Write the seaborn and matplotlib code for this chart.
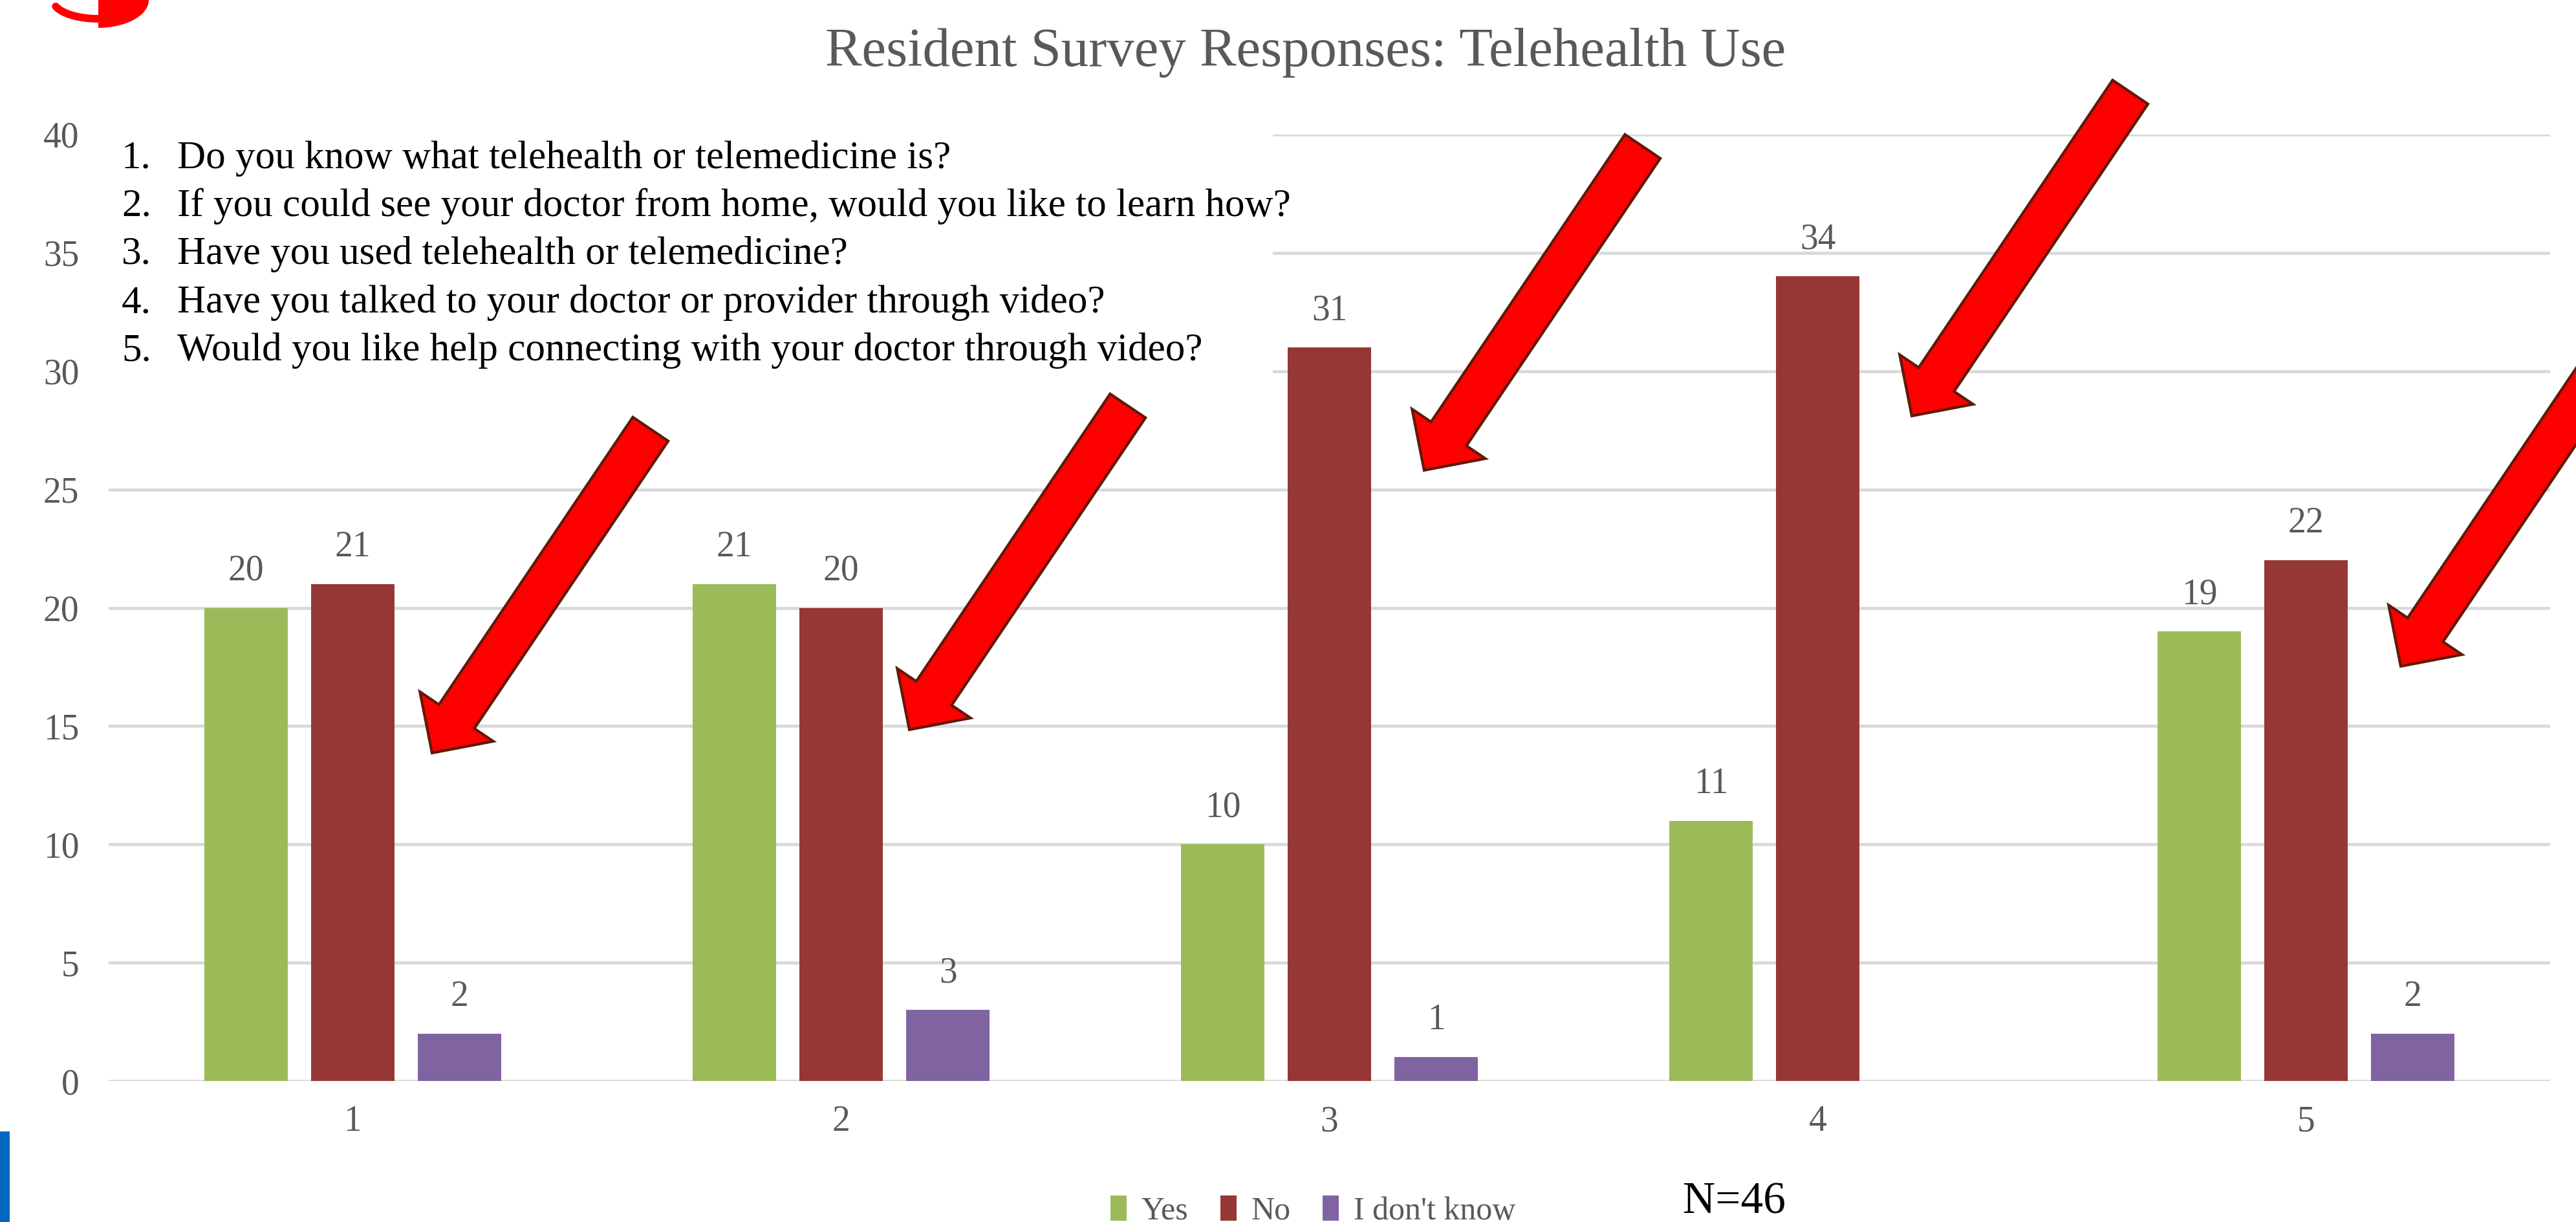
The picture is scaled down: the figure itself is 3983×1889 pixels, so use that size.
import numpy as np
import pandas as pd
import matplotlib
matplotlib.use("Agg")
import matplotlib.pyplot as plt
from matplotlib.patches import Polygon, Rectangle
from matplotlib.lines import Line2D
import seaborn as sns

# ---------------- data ----------------
questions = ["1", "2", "3", "4", "5"]
responses = ["Yes", "No", "I don't know"]
yes_counts = [20, 21, 10, 11, 19]
no_counts = [21, 20, 31, 34, 22]
dont_know_counts = [2, 3, 1, 0, 2]
y_ticks = [0, 5, 10, 15, 20, 25, 30, 35, 40]
question_texts = [
    "Do you know what telehealth or telemedicine is?",
    "If you could see your doctor from home, would you like to learn how?",
    "Have you used telehealth or telemedicine?",
    "Have you talked to your doctor or provider through video?",
    "Would you like help connecting with your doctor through video?",
]
title_text = "Resident Survey Responses: Telehealth Use"
n_text = "N=46"

# ---------------- style ----------------
colors = {"Yes": "#9BBB59", "No": "#953735", "I don't know": "#8064A2"}
GRAY = "#595959"
W, H, DPI = 3983, 1889, 100

sns.set_theme(style="white")
plt.rcParams["font.family"] = ["Liberation Serif", "DejaVu Serif"]

fig = plt.figure(figsize=(W / DPI, H / DPI), dpi=DPI)
fig.patch.set_facecolor("white")


def fx(px):
    return px / W


def fy(py):
    return 1 - py / H


ax = fig.add_axes([fx(168), fy(1671), (3943 - 168) / W, (1671 - 208) / H])

series = {"Yes": yes_counts, "No": no_counts, "I don't know": dont_know_counts}
rows = []
for r in responses:
    for q, v in zip(questions, series[r]):
        rows.append({"question": q, "response": r, "count": v})
df = pd.DataFrame(rows)

sns.barplot(data=df, x="question", y="count", hue="response", order=questions,
            hue_order=responses, palette=colors, width=0.656, gap=0.218,
            saturation=1, errorbar=None, linewidth=0, edgecolor="none", ax=ax)

for container, r in zip(ax.containers, responses):
    for bar, v in zip(container, series[r]):
        if v > 0:
            ax.annotate(str(v), (bar.get_x() + bar.get_width() / 2, bar.get_height()),
                        xytext=(0, 31), textcoords="offset points", ha="center",
                        va="baseline", fontsize=40, color=GRAY)

ax.set_ylim(0, 40)
ax.set_xlim(-0.5, 4.5)
ax.set_yticks(y_ticks)
ax.set_xlabel("")
ax.set_ylabel("")
for s in ax.spines.values():
    s.set_visible(False)
ax.grid(axis="y", color="#D9D9D9", linewidth=3.4)
ax.grid(axis="x", visible=False)
ax.set_axisbelow(True)
ax.tick_params(axis="y", length=0, labelsize=40, labelcolor=GRAY, pad=33)
ax.tick_params(axis="x", length=0, labelsize=40, labelcolor=GRAY, pad=27)

handles, labels = ax.get_legend_handles_labels()
if ax.get_legend() is not None:
    ax.get_legend().remove()
fig.legend(handles, labels, loc="center", bbox_to_anchor=(fx(2030), fy(1872)),
           ncol=3, frameon=False, fontsize=36, handlelength=0.5, handleheight=0.8,
           handletextpad=0.45, columnspacing=1.0, labelcolor=GRAY)

# white box behind question list (hides gridlines)
fig.add_artist(Rectangle((fx(168), fy(600)), fx(1968) - fx(168), (600 - 195) / H,
                         transform=fig.transFigure, facecolor="white",
                         edgecolor="none", zorder=1))

# title
fig.text(fx(2019), fy(102), title_text, ha="center", va="baseline",
         fontsize=61, color=GRAY, zorder=3)

# question list
q_baselines = [260, 334, 408, 483, 557]
for i, (txt, yb) in enumerate(zip(question_texts, q_baselines)):
    fig.text(fx(188), fy(yb), f"{i + 1}.", ha="left", va="baseline",
             fontsize=44, color="black", zorder=3)
    fig.text(fx(274), fy(yb), txt, ha="left", va="baseline",
             fontsize=44, color="black", zorder=3)

# N label
fig.text(fx(2681), fy(1875), n_text, ha="center", va="baseline",
         fontsize=50, color="black", zorder=3)

# red block arrows (decoration), pixel layout
arrow_tips_px = [(668, 1164), (1406, 1128), (2202, 727), (2956, 643), (3712, 1030)]
arrow_dir = np.array([-338.0, 501.0])
arrow_dir /= np.linalg.norm(arrow_dir)
perp = np.array([-arrow_dir[1], arrow_dir[0]])
A_LEN, SHAFT_W, HEAD_W, HEAD_L = 604, 66, 137, 68
for tx, ty in arrow_tips_px:
    T = np.array([tx, ty], dtype=float)
    B = T - HEAD_L * arrow_dir
    C = T - A_LEN * arrow_dir
    pts = [C + SHAFT_W / 2 * perp, B + SHAFT_W / 2 * perp, B + HEAD_W / 2 * perp, T,
           B - HEAD_W / 2 * perp, B - SHAFT_W / 2 * perp, C - SHAFT_W / 2 * perp]
    verts = [(fx(p[0]), fy(p[1])) for p in pts]
    fig.add_artist(Polygon(verts, closed=True, facecolor="#FF0000", edgecolor="#5E1A0A",
                           linewidth=3, joinstyle="miter", transform=fig.transFigure,
                           zorder=4))

# logo fragment top-left
t = np.linspace(0, np.pi / 2, 60)
logo = [(fx(152), fy(0))] + [(fx(152 + 78 * np.cos(a)), fy(43 * np.sin(a))) for a in t]
fig.add_artist(Polygon(logo, closed=True, facecolor="#FF0000", edgecolor="none",
                       transform=fig.transFigure, zorder=4))
t2 = np.linspace(np.pi / 2, np.deg2rad(160), 40)
fig.add_artist(Line2D([fx(152 + 70 * np.cos(a)) for a in t2],
                      [fy(29 * np.sin(a)) for a in t2], color="#FF0000", linewidth=8.5,
                      solid_capstyle="round", transform=fig.transFigure, zorder=4))

# blue strip bottom-left
fig.add_artist(Rectangle((0, 0), fx(15), (1889 - 1749) / H, transform=fig.transFigure,
                         facecolor="#0067BE", edgecolor="none", zorder=4))

fig.savefig("out.png", dpi=DPI)
